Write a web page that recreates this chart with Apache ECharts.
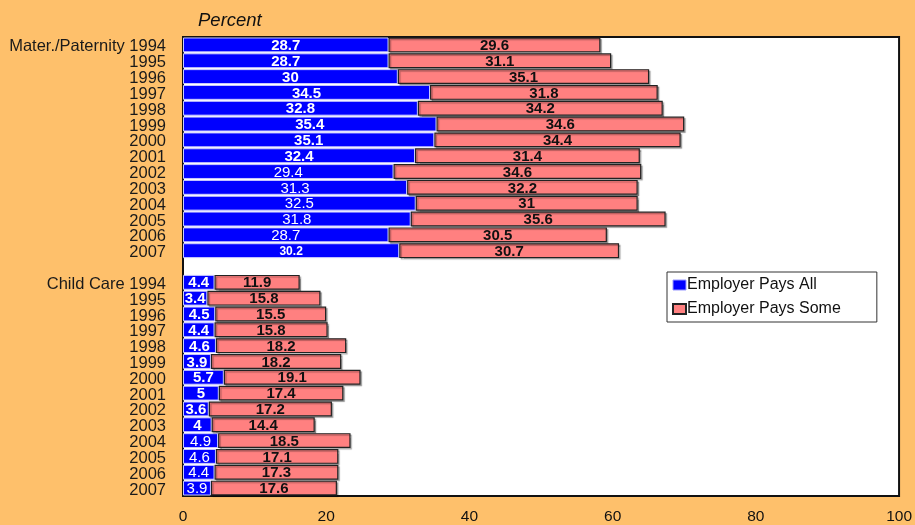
<!DOCTYPE html>
<html><head><meta charset="utf-8">
<script src="https://cdn.jsdelivr.net/npm/echarts@6/dist/echarts.min.js"></script>
<style>html,body{margin:0;padding:0;background:#FEC06B;}#c{width:915px;height:525px;}</style>
</head><body><div id="c"></div>
<script>
const years = ["1994","1995","1996","1997","1998","1999","2000","2001","2002","2003","2004","2005","2006","2007"];
const groups = ["Mater./Paternity","Child Care"];
const matAll = [28.7,28.7,30,34.5,32.8,35.4,35.1,32.4,29.4,31.3,32.5,31.8,28.7,30.2];
const matSome = [29.6,31.1,35.1,31.8,34.2,34.6,34.4,31.4,34.6,32.2,31,35.6,30.5,30.7];
const ccAll = [4.4,3.4,4.5,4.4,4.6,3.9,5.7,5,3.6,4,4.9,4.6,4.4,3.9];
const ccSome = [11.9,15.8,15.5,15.8,18.2,18.2,19.1,17.4,17.2,14.4,18.5,17.1,17.3,17.6];
const xTicks = [0,20,40,60,80,100];
const seriesNames = ["Employer Pays All","Employer Pays Some"];
// label weights: 1 = bold
const matAllBold = [1,1,1,1,1,1,1,1,0,0,0,0,0,1];
const ccAllBold = [1,1,1,1,1,1,1,1,1,1,0,0,0,0];

const cats = [], catLabels = [];
years.forEach((y,i)=>{cats.push('m'+i); catLabels.push(i===0 ? groups[0]+' '+y : y);});
cats.push('gap'); catLabels.push('');
years.forEach((y,i)=>{cats.push('c'+i); catLabels.push(i===0 ? groups[1]+' '+y : y);});

function allData(){
  const d=[];
  matAll.forEach((v,i)=>{
    const st={fontWeight: matAllBold[i]?'bold':'normal'};
    if(i===13){st.fontSize=12;}
    d.push({value:v,label:st});
  });
  d.push('-');
  ccAll.forEach((v,i)=>d.push({value:v,label:{fontWeight: ccAllBold[i]?'bold':'normal'}}));
  return d;
}
function someData(){
  return matSome.concat(['-']).concat(ccSome);
}
const chart = echarts.init(document.getElementById('c'),null,{renderer:'canvas'});
chart.setOption({
  backgroundColor:'#FEC06B',
  animation:false,
  title:{text:'Percent',left:193,top:6,textStyle:{fontFamily:'Liberation Sans',fontStyle:'italic',fontWeight:'normal',fontSize:18.5,color:'#111'}},
  legend:{
    data:[{name:seriesNames[0],itemStyle:{borderColor:'#9999ff',borderWidth:1}},{name:seriesNames[1]}], orient:'vertical', left:667, top:272,
    backgroundColor:'#fff', borderColor:'#333', borderWidth:1, padding:[5,36,5,5],
    icon:'rect', itemWidth:13, itemHeight:10, itemGap:8,
    textStyle:{fontFamily:'Liberation Sans',fontSize:16,color:'#111',padding:[0,0,0,-4]}
  },
  grid:{left:183,right:15,top:37,bottom:28,show:true,backgroundColor:'#fff',borderColor:'#111',borderWidth:2,containLabel:false},
  xAxis:{type:'value',min:0,max:100,interval:20,
    axisLine:{show:false},axisTick:{show:false},splitLine:{show:false},
    axisLabel:{fontFamily:'Liberation Sans',fontSize:15.5,color:'#111',margin:13}},
  yAxis:{type:'category',inverse:true,data:cats,
    axisLine:{show:true,lineStyle:{color:'#111',width:2}},axisTick:{show:false},
    axisLabel:{color:'#1a1a1a',margin:17,interval:0,
      formatter:(v,i)=>catLabels[i]?'{a|'+catLabels[i]+'}':'',
      rich:{a:{fontFamily:'Liberation Sans',fontSize:16.5,color:'#1a1a1a',padding:[4,0,0,0]}}}},
  series:[
    {name:seriesNames[0],type:'bar',stack:'s',barCategoryGap:'6%',data:allData(),
      itemStyle:{color:'#0000FF',borderColor:'#c8c8ff',borderWidth:1},
      label:{show:true,position:'inside',offset:[0,1],color:'#fff',fontFamily:'Liberation Sans',fontSize:15}},
    {name:seriesNames[1],type:'bar',stack:'s',barCategoryGap:'6%',data:someData(),
      itemStyle:{color:'#FF8080',borderColor:'#222',borderWidth:1.2,shadowColor:'rgba(0,0,0,0.3)',shadowOffsetX:1.5,shadowOffsetY:1.5,shadowBlur:1},
      label:{show:true,position:'inside',offset:[0,1],color:'#111',fontWeight:'bold',fontFamily:'Liberation Sans',fontSize:15}}
  ]
});
</script></body></html>
